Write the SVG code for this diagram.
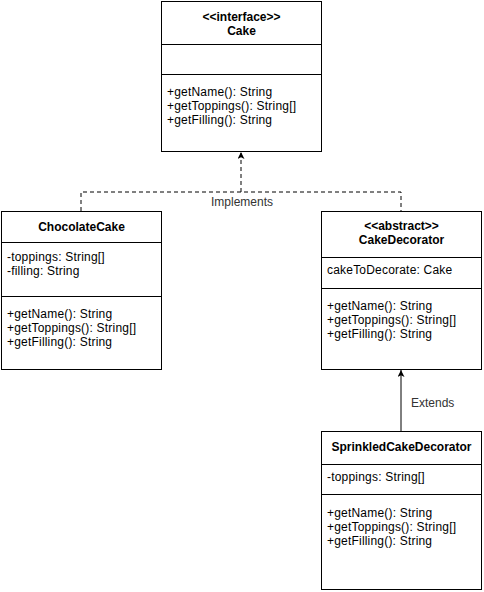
<svg xmlns="http://www.w3.org/2000/svg" width="484" height="592" viewBox="0 0 484 592">
<style>
.box{fill:#fff;stroke:#000;stroke-width:1}
.t{font-family:"Liberation Sans",Arial,sans-serif;font-size:12px;fill:#000;letter-spacing:0.2px}
.b{font-weight:bold;text-anchor:middle;letter-spacing:0}
.lbl{font-family:"Liberation Sans",Arial,sans-serif;font-size:12px;fill:#333}
.edge{fill:none;stroke:#000;stroke-width:1}
</style>
<defs>
<marker id="arr" viewBox="0 0 10 10" refX="10" refY="5" markerWidth="7" markerHeight="7" markerUnits="userSpaceOnUse" orient="auto">
<path d="M0,0 L10,5 L0,10 L2.5,5 Z" fill="#000"/>
</marker>
</defs>
<rect width="484" height="592" fill="#fff"/>
<g id="connectors">
<path class="edge" d="M81,211 V192 H401 V211" stroke-dasharray="4 3"/>
<path class="edge" d="M241,192 V152" stroke-dasharray="4 3" marker-end="url(#arr)"/>
<text class="lbl" x="242" y="206" text-anchor="middle">Implements</text>
<path class="edge" d="M401,431 V370" marker-end="url(#arr)"/>
<text class="lbl" x="411" y="407">Extends</text>
</g>
<g id="Cake">
<rect class="box" x="161.5" y="1.5" width="160" height="150"/>
<line class="box" x1="161.5" y1="44.5" x2="321.5" y2="44.5"/>
<line class="box" x1="161.5" y1="74.5" x2="321.5" y2="74.5"/>
<text class="t b" x="241.5" y="21">&lt;&lt;interface&gt;&gt;</text>
<text class="t b" x="241.5" y="35">Cake</text>
<text class="t" x="167" y="96">+getName(): String</text>
<text class="t" x="167" y="110">+getToppings(): String[]</text>
<text class="t" x="167" y="124">+getFilling(): String</text>
</g>
<g id="ChocolateCake">
<rect class="box" x="1.5" y="211.5" width="160" height="158"/>
<line class="box" x1="1.5" y1="242.5" x2="161.5" y2="242.5"/>
<line class="box" x1="1.5" y1="296.5" x2="161.5" y2="296.5"/>
<text class="t b" x="81.5" y="231">ChocolateCake</text>
<text class="t" x="7" y="261">-toppings: String[]</text>
<text class="t" x="7" y="275">-filling: String</text>
<text class="t" x="7" y="318">+getName(): String</text>
<text class="t" x="7" y="332">+getToppings(): String[]</text>
<text class="t" x="7" y="346">+getFilling(): String</text>
</g>
<g id="CakeDecorator">
<rect class="box" x="321.5" y="211.5" width="160" height="158"/>
<line class="box" x1="321.5" y1="257.5" x2="481.5" y2="257.5"/>
<line class="box" x1="321.5" y1="288.5" x2="481.5" y2="288.5"/>
<text class="t b" x="401.5" y="230">&lt;&lt;abstract&gt;&gt;</text>
<text class="t b" x="401.5" y="244">CakeDecorator</text>
<text class="t" x="327" y="274">cakeToDecorate: Cake</text>
<text class="t" x="327" y="310">+getName(): String</text>
<text class="t" x="327" y="324">+getToppings(): String[]</text>
<text class="t" x="327" y="338">+getFilling(): String</text>
</g>
<g id="SprinkledCakeDecorator">
<rect class="box" x="321.5" y="431.5" width="160" height="158"/>
<line class="box" x1="321.5" y1="464.5" x2="481.5" y2="464.5"/>
<line class="box" x1="321.5" y1="494.5" x2="481.5" y2="494.5"/>
<text class="t b" x="401.5" y="451">SprinkledCakeDecorator</text>
<text class="t" x="327" y="481">-toppings: String[]</text>
<text class="t" x="327" y="517">+getName(): String</text>
<text class="t" x="327" y="531">+getToppings(): String[]</text>
<text class="t" x="327" y="545">+getFilling(): String</text>
</g>
</svg>
